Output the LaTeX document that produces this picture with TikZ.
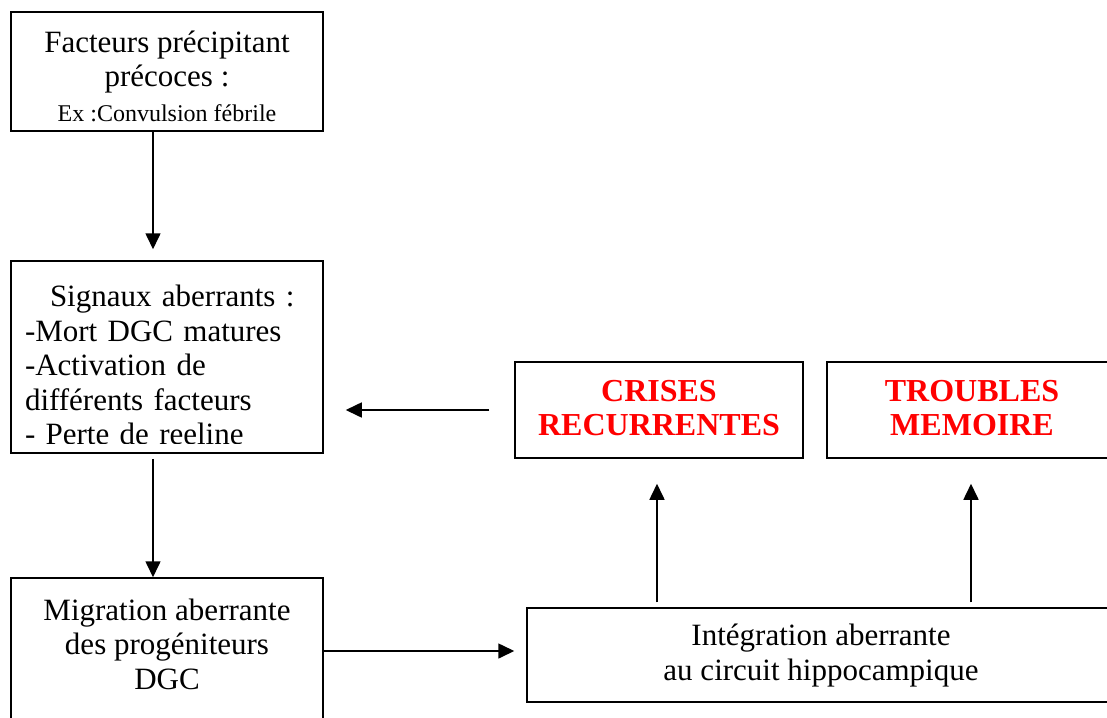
\documentclass[tikz,border=0pt]{standalone}
\usepackage{fontspec}
\setmainfont{Liberation Serif}
\usetikzlibrary{arrows.meta}

\begin{document}
\begin{tikzpicture}[x=1pt,y=-1pt,
  boite/.style={draw, line width=1.5pt, inner sep=0pt},
  texte/.style={align=center, font=\fontsize{31}{34.5}\selectfont},
  rouge/.style={align=center, text=red, font=\bfseries\fontsize{32}{34.5}\selectfont},
  fleche/.style={-{Triangle[length=16pt,width=15pt]}, line width=1.6pt}]
  \useasboundingbox (0,0) rectangle (1107,717);
  \clip (0,0) rectangle (1107,717);
  % Cadres
  \node[boite, minimum width=312pt, minimum height=119pt] (facteurs) at (167,71.5) {};
  \node[boite, minimum width=312pt, minimum height=192pt] (signaux) at (167,357) {};
  \node[boite, minimum width=312pt, minimum height=162pt] (migration) at (167,659) {};
  \node[boite, minimum width=588pt, minimum height=94pt] (integration) at (821,655) {};
  \node[boite, minimum width=288pt, minimum height=96pt] (crises) at (659,410) {};
  \node[boite, minimum width=290pt, minimum height=96pt] (troubles) at (972,410) {};
  % Textes
  \node[texte] (tfacteurs) at (167,76) {Facteurs précipitant\\précoces :\\{\fontsize{24}{28}\selectfont Ex :Convulsion fébrile}};
  \begin{scope}
    \clip (11,261) rectangle (323,443);
    \node[texte, text width=284pt, align=left] (tsignaux) at (167,365)
      {\hspace*{25pt}Signaux aberrants :\\-Mort DGC matures\\-Activation de\\différents facteurs\\- Perte de reeline};
  \end{scope}
  \node[texte] (tmigration) at (167,644) {Migration aberrante\\des progéniteurs\\DGC};
  \node[texte] (tintegration) at (821,655.5) {Intégration aberrante\\au circuit hippocampique};
  \node[rouge] (tcrises) at (659,408) {CRISES\\RECURRENTES};
  \node[rouge] (ttroubles) at (972,408) {TROUBLES\\MEMOIRE};
  % Flèches
  \draw[fleche] ([xshift=-14pt]facteurs.south) -- ([xshift=-14pt,yshift=11pt]signaux.north);
  \draw[fleche] ([xshift=-14pt,yshift=-5pt]signaux.south) -- ([xshift=-14pt]migration.north);
  \draw[fleche] ([yshift=8pt]migration.east) -- ([xshift=-12pt,yshift=4pt]integration.west);
  \coordinate (pointe) at (signaux.east |- crises.west);
  \draw[fleche] ([xshift=-25pt]crises.west) -- ([xshift=22pt]pointe);
  \coordinate (depcrises) at (crises.south |- integration.north);
  \coordinate (deptroubles) at (troubles.south |- integration.north);
  \draw[fleche] ([xshift=-2pt,yshift=5pt]depcrises) -- ([xshift=-2pt,yshift=-25pt]crises.south);
  \draw[fleche] ([xshift=-1pt,yshift=5pt]deptroubles) -- ([xshift=-1pt,yshift=-25pt]troubles.south);
\end{tikzpicture}
\end{document}
